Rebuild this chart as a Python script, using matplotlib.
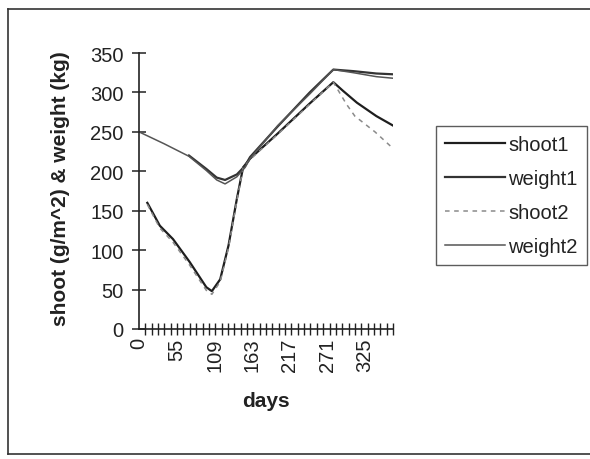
import matplotlib

matplotlib.use("Agg")
import matplotlib.pyplot as plt
import numpy as np
from matplotlib.lines import Line2D

plt.rcParams["font.family"] = ["Liberation Sans", "DejaVu Sans"]

# sampled days and values per series
shoot1_days = [12, 30, 49, 73, 97, 105, 117, 129, 141, 150, 160, 200, 246, 280, 294, 314, 342, 366]
shoot1 = [160, 131, 114, 85, 53, 48, 63, 106, 165, 205, 216, 248, 286, 313, 302, 287, 270, 258]

weight1_days = [72, 97, 112, 124, 141, 153, 160, 200, 246, 280, 309, 342, 366]
weight1 = [220, 203, 192, 189, 196, 207, 218, 257, 300, 329, 327, 324, 323]

shoot2_days = [12, 30, 49, 73, 97, 105, 117, 129, 141, 150, 160, 200, 246, 280, 299, 311, 340, 366]
shoot2 = [158, 128, 110, 81, 49, 44, 60, 103, 163, 204, 215, 247, 285, 313, 285, 270, 250, 229]

weight2_days = [0, 36, 72, 97, 112, 124, 141, 153, 160, 200, 246, 280, 309, 342, 366]
weight2 = [250, 235, 219, 201, 189, 184, 193, 205, 216, 258, 298, 329, 325, 320, 318]

day_labels = [0, 55, 109, 163, 217, 271, 325]

fig = plt.figure(figsize=(5.9, 4.6), dpi=100)
ax = fig.add_axes([139 / 590, 1 - 330 / 460, 254 / 590, 276 / 460])

ax.plot(shoot1_days, shoot1, color="#1e1e1e", lw=1.6, label="shoot1")
ax.plot(weight1_days, weight1, color="#333333", lw=1.6, label="weight1")
ax.plot(shoot2_days, shoot2, color="#8a8a8a", lw=1.1, ls=(0, (3, 3)), label="shoot2")
ax.plot(weight2_days, weight2, color="#555555", lw=1.1, label="weight2")

ax.set_xlim(0, 366)
ax.set_ylim(0, 350)
ax.set_yticks(np.arange(0, 351, 50))
ax.set_xticks(day_labels)
ax.set_xticklabels([str(d) for d in day_labels], rotation=90)
ax.set_xticks(np.linspace(0, 366, 41), minor=True)

for s in ("top", "right"):
    ax.spines[s].set_visible(False)
for s in ("left", "bottom"):
    ax.spines[s].set_color("#222")
    ax.spines[s].set_linewidth(1.2)

ax.tick_params(axis="y", direction="inout", length=10, width=1.1, pad=6,
               labelsize=14.5, colors="#222")
ax.tick_params(axis="x", which="major", length=0, pad=6, labelsize=14.5,
               colors="#222")
ax.tick_params(axis="x", which="minor", direction="inout", length=8,
               width=1.0, colors="#222")

fig.text(60 / 590, 1 - 189 / 460, "shoot (g/m^2) & weight (kg)",
         rotation=90, ha="center", va="center", fontsize=15,
         fontweight="bold", color="#222")
fig.text(266 / 590, 1 - 402 / 460, "days", ha="center", va="center",
         fontsize=15, fontweight="bold", color="#222")

leg = fig.legend(loc="upper left", bbox_to_anchor=(436 / 590, 1 - 127 / 460),
                 fontsize=14.5, frameon=True, fancybox=False, borderpad=0.45,
                 handlelength=3.0, handletextpad=0.15, labelspacing=0.75,
                 borderaxespad=0)
leg.get_frame().set_edgecolor("#333")
leg.get_frame().set_linewidth(1.0)
for t in leg.get_texts():
    t.set_color("#222")

# outer chart border (left, top, bottom)
for xs, ys in (([8, 8], [10, 455]), ([8, 590], [10, 10]), ([8, 590], [455, 455])):
    fig.add_artist(Line2D([x / 590 for x in xs], [1 - y / 460 for y in ys],
                          transform=fig.transFigure, color="#333", lw=1.2))

fig.savefig("out.png", dpi=100)
